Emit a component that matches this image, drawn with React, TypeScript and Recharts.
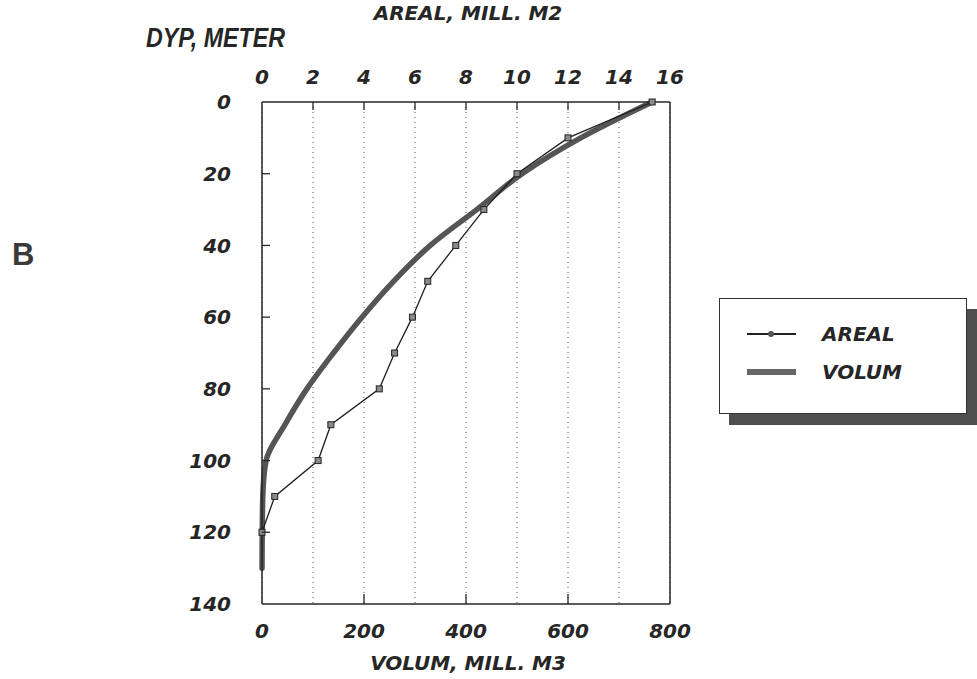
import React from "react";
import {
  LineChart,
  Line,
  XAxis,
  YAxis,
  CartesianGrid,
  ReferenceLine,
  Legend,
} from "recharts";

// depth in metres (every 10 m)
const depths = [0, 10, 20, 30, 40, 50, 60, 70, 80, 90, 100, 110, 120, 130];
// area, mill. m2 (no reading at 130 m)
const arealValues = [15.3, 12.0, 10.0, 8.7, 7.6, 6.5, 5.9, 5.2, 4.6, 2.7, 2.2, 0.5, 0, null];
// volume, mill. m3
const volumValues = [765, 625, 510, 421, 330, 258, 196, 140, 88, 45, 8, 1.5, 0.5, 0];

const arealTicks = [0, 2, 4, 6, 8, 10, 12, 14, 16];
const volumTicks = [0, 200, 400, 600, 800];
const depthTicks = [0, 20, 40, 60, 80, 100, 120, 140];

const W = 977;
const H = 679;
const PLOT = { left: 262, right: 670, top: 102, bottom: 604 };

const FONT = '"DejaVu Sans", Verdana, sans-serif';
const FONT_NARROW = '"Liberation Sans", Arial, Helvetica, sans-serif';
const INK = "#262626";

const data = depths.map((d, i) => ({
  depth: d,
  areal: arealValues[i],
  volum: volumValues[i],
}));

const labelStyle = {
  fontFamily: FONT,
  fontStyle: "italic",
  fontWeight: 700,
  fill: INK,
};

function DepthTick(props: any) {
  const { y, payload } = props;
  const v = payload.value;
  return (
    <g>
      {v !== 0 && v !== 140 && (
        <line x1={PLOT.left} x2={PLOT.left + 8} y1={y} y2={y} stroke={INK} strokeWidth={1.3} />
      )}
      <text x={PLOT.left - 31} y={y} dy="0.36em" textAnchor="end" fontSize={20} style={labelStyle}>
        {v}
      </text>
    </g>
  );
}

function ArealTick(props: any) {
  const { x, payload } = props;
  const v = payload.value;
  return (
    <g>
      {v !== 0 && v !== 16 && (
        <line x1={x} x2={x} y1={PLOT.top} y2={PLOT.top + 8} stroke={INK} strokeWidth={1.3} />
      )}
      <text x={x} y={PLOT.top - 25} dy="0.36em" textAnchor="middle" fontSize={20} style={labelStyle}>
        {v}
      </text>
    </g>
  );
}

function VolumTick(props: any) {
  const { x, payload } = props;
  const v = payload.value;
  return (
    <g>
      {v !== 0 && v !== 800 && (
        <line x1={x} x2={x} y1={PLOT.bottom} y2={PLOT.bottom - 10} stroke={INK} strokeWidth={1.3} />
      )}
      <text x={x} y={PLOT.bottom + 27} dy="0.36em" textAnchor="middle" fontSize={20} style={labelStyle}>
        {v}
      </text>
    </g>
  );
}

function SquareDot(props: any) {
  const { cx, cy, value, index } = props;
  if (value == null || cx == null || cy == null) return <g key={`d${index}`} />;
  return (
    <rect
      key={`d${index}`}
      x={cx - 3}
      y={cy - 3}
      width={6}
      height={6}
      fill="#8a8a8a"
      stroke="#222"
      strokeWidth={1}
    />
  );
}

const legendText: React.CSSProperties = {
  position: "absolute",
  left: 102,
  fontFamily: FONT,
  fontStyle: "italic",
  fontWeight: 700,
  fontSize: 20,
  color: INK,
  lineHeight: "20px",
};

function LegendBox() {
  return (
    <div style={{ position: "relative", width: 248, height: 116 }}>
      <div
        style={{
          position: "absolute",
          left: 10,
          top: 11,
          width: 260,
          height: 116,
          background: "#4e4e4e",
        }}
      />
      <div
        style={{
          position: "absolute",
          left: 0,
          top: 0,
          width: 246,
          height: 114,
          border: "1.5px solid #333",
          background: "#fff",
        }}
      >
        <div style={{ position: "absolute", left: 27, top: 34, width: 49, height: 1.5, background: "#222" }} />
        <div
          style={{
            position: "absolute",
            left: 48,
            top: 32,
            width: 6,
            height: 6,
            borderRadius: 3,
            background: "#555",
          }}
        />
        <div style={{ ...legendText, top: 25 }}>AREAL</div>
        <div style={{ position: "absolute", left: 27, top: 70, width: 49, height: 6, background: "#666" }} />
        <div style={{ ...legendText, top: 63 }}>VOLUM</div>
      </div>
    </div>
  );
}

const titleStyle: React.CSSProperties = {
  position: "absolute",
  fontFamily: FONT,
  fontStyle: "italic",
  fontWeight: 700,
  color: INK,
  whiteSpace: "nowrap",
};

export default function App() {
  return (
    <div style={{ position: "absolute", left: 0, top: 0, width: W, height: H, background: "#fff" }}>
      <LineChart
        width={W}
        height={H}
        data={data}
        layout="vertical"
        margin={{ top: PLOT.top - 30, right: W - PLOT.right, bottom: H - PLOT.bottom - 30, left: PLOT.left - 60 }}
      >
        <CartesianGrid
          xAxisId="areal"
          horizontal={false}
          stroke="#555"
          strokeWidth={1}
          strokeDasharray="1 4"
        />
        <XAxis
          xAxisId="areal"
          type="number"
          orientation="top"
          domain={[0, 16]}
          ticks={arealTicks}
          height={30}
          axisLine={{ stroke: INK, strokeWidth: 1.5 }}
          tickLine={false}
          tick={<ArealTick />}
          interval={0}
        />
        <XAxis
          xAxisId="vol"
          type="number"
          orientation="bottom"
          domain={[0, 800]}
          ticks={volumTicks}
          height={30}
          axisLine={{ stroke: INK, strokeWidth: 1.5 }}
          tickLine={false}
          tick={<VolumTick />}
          interval={0}
        />
        <YAxis
          type="number"
          dataKey="depth"
          domain={[0, 140]}
          ticks={depthTicks}
          width={60}
          axisLine={{ stroke: INK, strokeWidth: 1.5 }}
          tickLine={false}
          tick={<DepthTick />}
          interval={0}
        />
        <ReferenceLine xAxisId="vol" x={800} stroke={INK} strokeWidth={1.5} />
        <Line
          xAxisId="vol"
          dataKey="volum"
          type="monotone"
          stroke="#555"
          strokeWidth={5.5}
          strokeLinejoin="round"
          strokeLinecap="round"
          dot={false}
          isAnimationActive={false}
        />
        <Line
          xAxisId="areal"
          dataKey="areal"
          type="linear"
          stroke="#1e1e1e"
          strokeWidth={1.3}
          dot={<SquareDot />}
          isAnimationActive={false}
        />
        <Legend
          layout="horizontal"
          verticalAlign="middle"
          align="center"
          content={() => <LegendBox />}
          wrapperStyle={{ left: 719, top: 298, width: 248, height: 116 }}
        />
      </LineChart>
      <div
        style={{
          ...titleStyle,
          fontFamily: FONT_NARROW,
          left: 146,
          top: 22,
          fontSize: 27,
          lineHeight: "32px",
          transform: "scaleX(0.86)",
          transformOrigin: "left center",
        }}
      >
        DYP, METER
      </div>
      <div style={{ ...titleStyle, left: 318, width: 300, textAlign: "center", top: 1, fontSize: 20, lineHeight: "24px" }}>
        AREAL, MILL. M2
      </div>
      <div style={{ ...titleStyle, left: 318, width: 300, textAlign: "center", top: 651, fontSize: 20, lineHeight: "24px" }}>
        VOLUM, MILL. M3
      </div>
      <div
        style={{
          position: "absolute",
          left: 12,
          top: 239,
          fontFamily: FONT_NARROW,
          fontWeight: 700,
          fontSize: 31,
          lineHeight: "31px",
          color: "#3a3a3a",
        }}
      >
        B
      </div>
    </div>
  );
}
